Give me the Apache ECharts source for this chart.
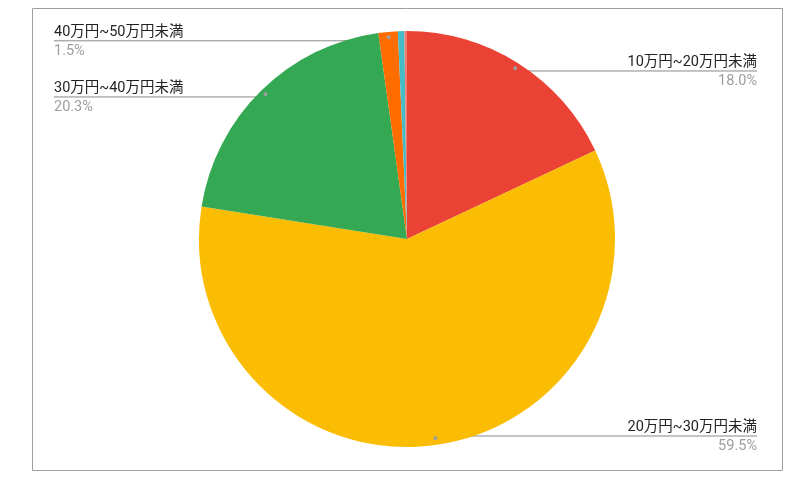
<!DOCTYPE html>
<html><head><meta charset="utf-8">
<script src="https://cdn.jsdelivr.net/npm/echarts@6/dist/echarts.min.js"></script>
<style>html,body{margin:0;padding:0;background:#fff}#c{width:811px;height:483px}</style>
</head><body><div id="c"></div>
<script>
const categories = ['10万円~20万円未満', '20万円~30万円未満', '30万円~40万円未満', '40万円~50万円未満', '50万円~60万円未満', '60万円以上'];
const shares = [18.0, 59.5, 20.3, 1.5, 0.5, 0.2];
const labeled = [true, true, true, true, false, false];
const colors = ['#ea4335', '#fbbc04', '#34a853', '#ff6d01', '#46bdc6', '#f07b72'];

const FONT = 'Roboto, "Noto Sans CJK JP", sans-serif';
const CENTER = [407, 239];
const R = 208;

const mainData = categories.map((n, i) => ({ name: n, value: shares[i], itemStyle: { color: colors[i] } }));
const labelData = categories.map((n, i) => ({ name: n, value: shares[i], label: { show: labeled[i] }, labelLine: { show: labeled[i] } }));

const chart = echarts.init(document.getElementById('c'));
chart.setOption({
  animation: false,
  graphic: [{ type: 'rect', silent: true, z: -10, shape: { x: 32.5, y: 8.5, width: 750, height: 462 }, style: { fill: 'none', stroke: '#9e9e9e', lineWidth: 1 } }],
  series: [
    {
      type: 'pie', center: CENTER, radius: R, startAngle: 90, clockwise: true, silent: true,
      label: { show: false }, labelLine: { show: false },
      itemStyle: { borderWidth: 0 },
      data: mainData
    },
    {
      type: 'pie', center: CENTER, radius: [0, R - 9], startAngle: 90, clockwise: true, silent: true,
      itemStyle: { color: 'transparent' },
      avoidLabelOverlap: true,
      label: {
        position: 'outside', alignTo: 'edge', edgeDistance: 54,
        fontFamily: FONT,
        formatter: p => '{n|' + p.name + '}\n{p|' + p.percent.toFixed(1) + '%}',
        rich: {
          n: { fontSize: 14.5, color: '#222', fontFamily: FONT, lineHeight: 21 },
          p: { fontSize: 14.5, color: '#9e9e9e', fontFamily: FONT, lineHeight: 17 }
        }
      },
      labelLine: { show: true, length: 0, length2: 10, lineStyle: { color: '#888', width: 1 } },
      labelLayout: function (p) {
        const pts = p.labelLinePoints;
        if (!pts || pts.length < 2) return {};
        const r = p.labelRect;
        const last = pts[pts.length - 1];
        const right = last[0] > pts[0][0];
        const endX = right ? r.x + r.width : r.x;
        const out = pts.slice(0, pts.length - 1);
        out.push([endX, last[1]]);
        return { labelLinePoints: out };
      },
      data: labelData
    },
    {
      type: 'pie', center: CENTER, radius: [R - 18, R], startAngle: 90, clockwise: true, silent: true,
      itemStyle: { color: 'transparent' },
      label: { position: 'inside', formatter: '●', fontSize: 9, color: '#9e9e9e' },
      labelLine: { show: false },
      data: labelData.map(d => ({ name: d.name, value: d.value, label: { show: d.label.show } }))
    }
  ]
});
</script></body></html>
